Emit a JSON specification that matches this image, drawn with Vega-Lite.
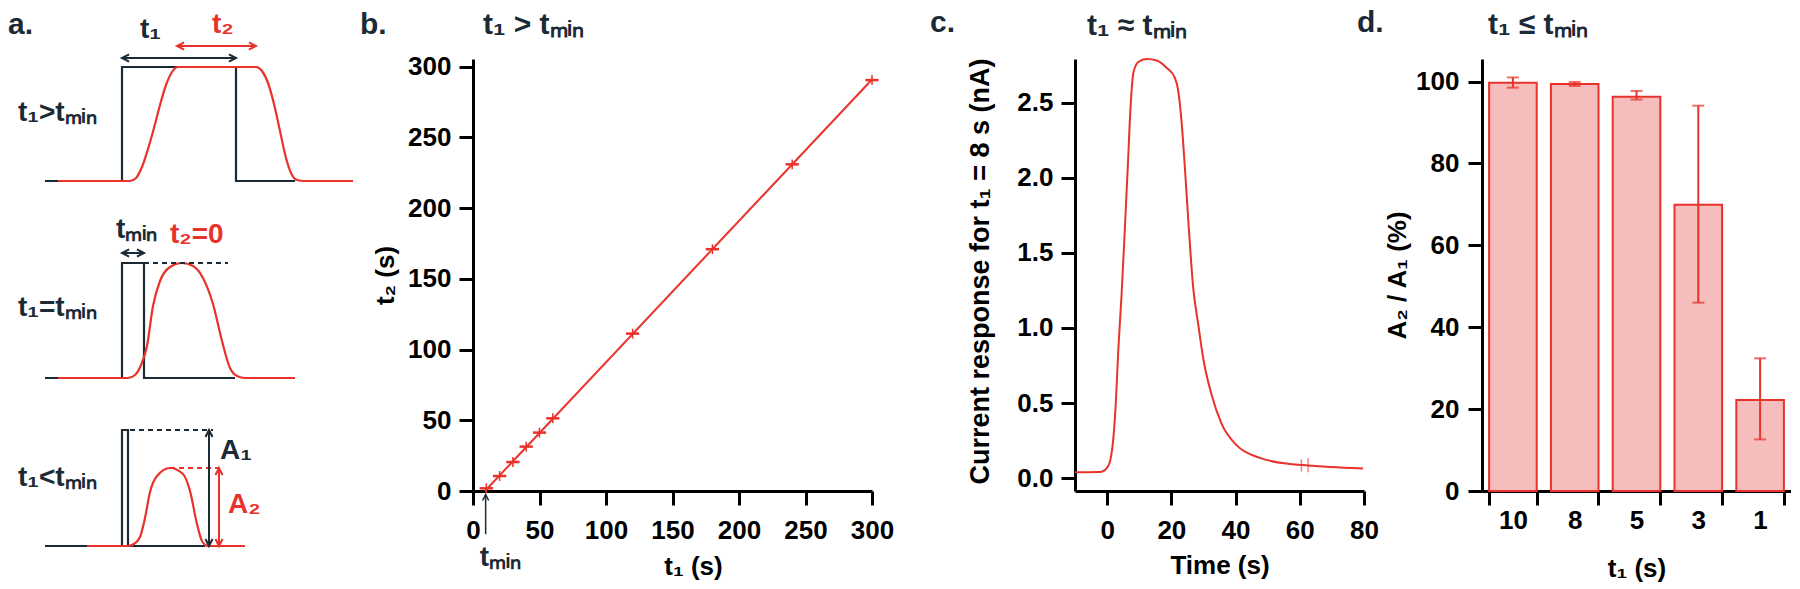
{
  "$schema": "https://vega.github.io/schema/vega-lite/v6.json",
  "background": "white",
  "padding": 0,
  "bounds": "flush",
  "spacing": 0,
  "config": {
    "view": {"stroke": null},
    "font": "Liberation Sans",
    "axis": {
      "grid": false,
      "domainColor": "#000000",
      "domainWidth": 3,
      "tickColor": "#000000",
      "tickWidth": 3,
      "tickSize": 14,
      "labelFont": "Liberation Sans",
      "labelFontWeight": "bold",
      "labelFontSize": 26,
      "labelColor": "#000000",
      "titleFont": "Liberation Sans",
      "titleFontWeight": "bold",
      "titleFontSize": 26,
      "titleColor": "#000000",
      "labelFlush": false,
      "labelOverlap": false
    }
  },
  "hconcat": [
    {
      "width": 473,
      "height": 432,
      "encoding": {
        "x": {"field": "x", "type": "quantitative", "scale": {"domain": [0, 473], "nice": false, "zero": false}, "axis": null},
        "y": {"field": "y", "type": "quantitative", "scale": {"domain": [58, 490], "reverse": true, "nice": false, "zero": false}, "axis": null},
        "color": {"field": "series", "type": "nominal", "scale": {"domain": ["pulse", "response"], "range": ["#1b2a35", "#e8322b"]}, "legend": null}
      },
      "layer": [
        {
          "data": {"values": [{"x": 0, "y": 0, "y2": 589, "series": "pulse"}]},
          "mark": {"type": "rule", "strokeOpacity": 0, "strokeWidth": 0.1},
          "encoding": {"y2": {"field": "y2"}}
        },
        {
          "data": {"values": [
            {"id": "k1", "series": "pulse", "i": 1, "x": 45, "y": 180},
            {"id": "k1", "series": "pulse", "i": 2, "x": 122, "y": 180},
            {"id": "k1", "series": "pulse", "i": 3, "x": 122, "y": 66},
            {"id": "k1", "series": "pulse", "i": 4, "x": 236, "y": 66},
            {"id": "k1", "series": "pulse", "i": 5, "x": 236, "y": 180},
            {"id": "k1", "series": "pulse", "i": 6, "x": 295, "y": 180},
            {"id": "k2", "series": "pulse", "i": 1, "x": 45, "y": 377},
            {"id": "k2", "series": "pulse", "i": 2, "x": 122, "y": 377},
            {"id": "k2", "series": "pulse", "i": 3, "x": 122, "y": 262},
            {"id": "k2", "series": "pulse", "i": 4, "x": 144, "y": 262},
            {"id": "k2", "series": "pulse", "i": 5, "x": 144, "y": 377},
            {"id": "k2", "series": "pulse", "i": 6, "x": 235, "y": 377},
            {"id": "k3", "series": "pulse", "i": 1, "x": 45, "y": 545},
            {"id": "k3", "series": "pulse", "i": 2, "x": 122, "y": 545},
            {"id": "k3", "series": "pulse", "i": 3, "x": 122, "y": 429},
            {"id": "k3", "series": "pulse", "i": 4, "x": 128, "y": 429},
            {"id": "k3", "series": "pulse", "i": 5, "x": 128, "y": 545},
            {"id": "k3", "series": "pulse", "i": 6, "x": 205, "y": 545},
            {"id": "r1", "series": "response", "i": 1, "x": 58, "y": 180},
            {"id": "r1", "series": "response", "i": 2, "x": 130, "y": 180},
            {"id": "r1", "series": "response", "i": 3, "x": 136, "y": 177},
            {"id": "r1", "series": "response", "i": 4, "x": 142, "y": 166},
            {"id": "r1", "series": "response", "i": 5, "x": 148, "y": 148},
            {"id": "r1", "series": "response", "i": 6, "x": 154, "y": 127},
            {"id": "r1", "series": "response", "i": 7, "x": 160, "y": 104},
            {"id": "r1", "series": "response", "i": 8, "x": 166, "y": 84},
            {"id": "r1", "series": "response", "i": 9, "x": 172, "y": 71},
            {"id": "r1", "series": "response", "i": 10, "x": 178, "y": 66},
            {"id": "r1", "series": "response", "i": 11, "x": 256, "y": 66},
            {"id": "r1", "series": "response", "i": 12, "x": 262, "y": 70},
            {"id": "r1", "series": "response", "i": 13, "x": 268, "y": 82},
            {"id": "r1", "series": "response", "i": 14, "x": 274, "y": 103},
            {"id": "r1", "series": "response", "i": 15, "x": 280, "y": 130},
            {"id": "r1", "series": "response", "i": 16, "x": 286, "y": 157},
            {"id": "r1", "series": "response", "i": 17, "x": 291, "y": 172},
            {"id": "r1", "series": "response", "i": 18, "x": 297, "y": 179},
            {"id": "r1", "series": "response", "i": 19, "x": 304, "y": 180},
            {"id": "r1", "series": "response", "i": 20, "x": 353, "y": 180},
            {"id": "r2", "series": "response", "i": 1, "x": 58, "y": 377},
            {"id": "r2", "series": "response", "i": 2, "x": 128, "y": 377},
            {"id": "r2", "series": "response", "i": 3, "x": 135, "y": 374},
            {"id": "r2", "series": "response", "i": 4, "x": 141, "y": 364},
            {"id": "r2", "series": "response", "i": 5, "x": 147, "y": 345},
            {"id": "r2", "series": "response", "i": 6, "x": 153, "y": 305},
            {"id": "r2", "series": "response", "i": 7, "x": 160, "y": 280},
            {"id": "r2", "series": "response", "i": 8, "x": 170, "y": 266},
            {"id": "r2", "series": "response", "i": 9, "x": 182, "y": 262},
            {"id": "r2", "series": "response", "i": 10, "x": 193, "y": 265},
            {"id": "r2", "series": "response", "i": 11, "x": 203, "y": 277},
            {"id": "r2", "series": "response", "i": 12, "x": 213, "y": 303},
            {"id": "r2", "series": "response", "i": 13, "x": 222, "y": 340},
            {"id": "r2", "series": "response", "i": 14, "x": 230, "y": 367},
            {"id": "r2", "series": "response", "i": 15, "x": 237, "y": 375},
            {"id": "r2", "series": "response", "i": 16, "x": 245, "y": 377},
            {"id": "r2", "series": "response", "i": 17, "x": 295, "y": 377},
            {"id": "r3", "series": "response", "i": 1, "x": 87, "y": 545},
            {"id": "r3", "series": "response", "i": 2, "x": 128, "y": 545},
            {"id": "r3", "series": "response", "i": 3, "x": 134, "y": 543},
            {"id": "r3", "series": "response", "i": 4, "x": 140, "y": 536},
            {"id": "r3", "series": "response", "i": 5, "x": 145, "y": 517},
            {"id": "r3", "series": "response", "i": 6, "x": 150, "y": 491},
            {"id": "r3", "series": "response", "i": 7, "x": 157, "y": 475},
            {"id": "r3", "series": "response", "i": 8, "x": 170, "y": 467},
            {"id": "r3", "series": "response", "i": 9, "x": 183, "y": 473},
            {"id": "r3", "series": "response", "i": 10, "x": 190, "y": 490},
            {"id": "r3", "series": "response", "i": 11, "x": 197, "y": 523},
            {"id": "r3", "series": "response", "i": 12, "x": 202, "y": 540},
            {"id": "r3", "series": "response", "i": 13, "x": 208, "y": 545},
            {"id": "r3", "series": "response", "i": 14, "x": 245, "y": 545}
          ]},
          "mark": {"type": "line", "strokeWidth": 2.2, "interpolate": "monotone"},
          "encoding": {"detail": {"field": "id"}, "order": {"field": "i", "type": "quantitative"}}
        },
        {
          "data": {"values": [
            {"id": "d1", "series": "pulse", "x": 144, "y": 262},
            {"id": "d1", "series": "pulse", "x": 228, "y": 262},
            {"id": "d2", "series": "pulse", "x": 130, "y": 429},
            {"id": "d2", "series": "pulse", "x": 213, "y": 429},
            {"id": "d3", "series": "response", "x": 170, "y": 467},
            {"id": "d3", "series": "response", "x": 222, "y": 467}
          ]},
          "mark": {"type": "line", "strokeWidth": 2, "strokeDash": [5, 4]},
          "encoding": {"detail": {"field": "id"}}
        },
        {
          "data": {"values": [
            {"series": "pulse", "x": 122, "y": 57, "x2": 236, "y2": 57},
            {"series": "response", "x": 177, "y": 45, "x2": 256, "y2": 45},
            {"series": "pulse", "x": 122, "y": 252, "x2": 144, "y2": 252},
            {"series": "pulse", "x": 209, "y": 429, "x2": 209, "y2": 545},
            {"series": "response", "x": 219, "y": 467, "x2": 219, "y2": 545}
          ]},
          "mark": {"type": "rule", "strokeWidth": 2},
          "encoding": {"x2": {"field": "x2"}, "y2": {"field": "y2"}}
        },
        {
          "data": {"values": [
            {"series": "pulse", "x": 122, "y": 57, "dir": "left"},
            {"series": "pulse", "x": 236, "y": 57, "dir": "right"},
            {"series": "response", "x": 177, "y": 45, "dir": "left"},
            {"series": "response", "x": 256, "y": 45, "dir": "right"},
            {"series": "pulse", "x": 122, "y": 252, "dir": "left"},
            {"series": "pulse", "x": 144, "y": 252, "dir": "right"},
            {"series": "pulse", "x": 209, "y": 429, "dir": "up"},
            {"series": "pulse", "x": 209, "y": 545, "dir": "down"},
            {"series": "response", "x": 219, "y": 467, "dir": "up"},
            {"series": "response", "x": 219, "y": 545, "dir": "down"}
          ]},
          "mark": {"type": "point", "filled": false, "strokeWidth": 2, "size": 50, "opacity": 1},
          "encoding": {
            "shape": {"field": "dir", "type": "nominal", "scale": {"domain": ["left", "right", "up", "down"], "range": ["M2,-1L0,0L2,1", "M-2,-1L0,0L-2,1", "M-1,2L0,0L1,2", "M-1,-2L0,0L1,-2"]}, "legend": null}
          }
        },
        {
          "data": {"values": [
            {"text": "t₁", "series": "pulse", "x": 140, "y": 37},
            {"text": "t₂", "series": "response", "x": 212, "y": 32},
            {"text": "t₁>tₘᵢₙ", "series": "pulse", "x": 18, "y": 120},
            {"text": "tₘᵢₙ", "series": "pulse", "x": 116, "y": 237},
            {"text": "t₂=0", "series": "response", "x": 170, "y": 242},
            {"text": "t₁=tₘᵢₙ", "series": "pulse", "x": 18, "y": 315},
            {"text": "t₁<tₘᵢₙ", "series": "pulse", "x": 18, "y": 485},
            {"text": "A₁", "series": "pulse", "x": 220, "y": 458},
            {"text": "A₂", "series": "response", "x": 228, "y": 512}
          ]},
          "mark": {"type": "text", "align": "left", "baseline": "alphabetic", "fontSize": 28, "fontWeight": "bold", "font": "Liberation Sans"},
          "encoding": {"text": {"field": "text"}}
        },
        {
          "data": {"values": [
            {"text": "a.", "series": "pulse", "x": 8, "y": 33},
            {"text": "b.", "series": "pulse", "x": 360, "y": 33},
            {"text": "c.", "series": "pulse", "x": 930, "y": 31},
            {"text": "d.", "series": "pulse", "x": 1357, "y": 31}
          ]},
          "mark": {"type": "text", "align": "left", "baseline": "alphabetic", "fontSize": 30, "fontWeight": "bold", "font": "Liberation Sans"},
          "encoding": {"text": {"field": "text"}}
        },
        {
          "data": {"values": [
            {"text": "t₁ > tₘᵢₙ", "series": "pulse", "x": 483, "y": 33},
            {"text": "t₁ ≈ tₘᵢₙ", "series": "pulse", "x": 1087, "y": 34},
            {"text": "t₁ ≤ tₘᵢₙ", "series": "pulse", "x": 1488, "y": 33}
          ]},
          "mark": {"type": "text", "align": "left", "baseline": "alphabetic", "fontSize": 30, "fontWeight": "bold", "font": "Liberation Sans"},
          "encoding": {"text": {"field": "text"}}
        }
      ]
    },
    {
      "width": 399,
      "height": 432,
      "encoding": {
        "x": {"field": "t1", "type": "quantitative", "scale": {"domain": [0, 300], "nice": false, "zero": false},
          "axis": {"values": [0, 50, 100, 150, 200, 250, 300], "title": "t₁ (s)", "labelPadding": 12, "titleX": 220, "titleY": 83, "titleBaseline": "alphabetic"}},
        "y": {"field": "t2", "type": "quantitative", "scale": {"domain": [0, 305.5], "nice": false, "zero": false},
          "axis": {"values": [0, 50, 100, 150, 200, 250, 300], "title": "t₂ (s)", "labelPadding": 8, "titleX": -88, "titleBaseline": "middle"}}
      },
      "layer": [
        {
          "data": {"values": [{"t1": 9, "t2": 0}, {"t1": 300, "t2": 291}]},
          "mark": {"type": "line", "color": "#e8322b", "strokeWidth": 2}
        },
        {
          "data": {"name": "pts", "values": [
            {"t1": 10, "t2": 1.9, "t1lo": 5, "t1hi": 15, "t2lo": -1.6, "t2hi": 5.4},
            {"t1": 20, "t2": 10.6, "t1lo": 15, "t1hi": 25, "t2lo": 7.1, "t2hi": 14.1},
            {"t1": 30, "t2": 20.5, "t1lo": 25, "t1hi": 35, "t2lo": 17, "t2hi": 24},
            {"t1": 40, "t2": 31.4, "t1lo": 35, "t1hi": 45, "t2lo": 27.9, "t2hi": 34.9},
            {"t1": 50, "t2": 41.3, "t1lo": 45, "t1hi": 55, "t2lo": 37.8, "t2hi": 44.8},
            {"t1": 60, "t2": 51.4, "t1lo": 55, "t1hi": 65, "t2lo": 47.9, "t2hi": 54.9},
            {"t1": 120, "t2": 111.3, "t1lo": 115, "t1hi": 125, "t2lo": 107.8, "t2hi": 114.8},
            {"t1": 180, "t2": 171, "t1lo": 175, "t1hi": 185, "t2lo": 167.5, "t2hi": 174.5},
            {"t1": 240, "t2": 231, "t1lo": 235, "t1hi": 245, "t2lo": 227.5, "t2hi": 234.5},
            {"t1": 300, "t2": 290.6, "t1lo": 295, "t1hi": 305, "t2lo": 287.1, "t2hi": 294.1}
          ]},
          "mark": {"type": "rule", "color": "#e8322b", "strokeWidth": 2.5},
          "encoding": {"x": {"field": "t1lo", "type": "quantitative"}, "x2": {"field": "t1hi"}}
        },
        {
          "data": {"name": "pts"},
          "mark": {"type": "rule", "color": "#e8322b", "strokeWidth": 1.5},
          "encoding": {"y": {"field": "t2lo", "type": "quantitative"}, "y2": {"field": "t2hi"}}
        },
        {
          "data": {"values": [{"t1": 9.5, "t2": -3, "t2b": -30.5}]},
          "mark": {"type": "rule", "color": "#1b2a35", "strokeWidth": 1.5},
          "encoding": {"y2": {"field": "t2b"}}
        },
        {
          "data": {"values": [{"t1": 9.5, "t2": -2.5}]},
          "mark": {"type": "point", "shape": "M-1,2L0,0L1,2", "filled": false, "size": 36, "strokeWidth": 1.5, "color": "#1b2a35", "opacity": 1}
        },
        {
          "data": {"values": [{"t1": 5, "t2": -53, "label": "tₘᵢₙ"}]},
          "mark": {"type": "text", "align": "left", "baseline": "alphabetic", "fontSize": 28, "fontWeight": "bold", "color": "#1b2a35"},
          "encoding": {"text": {"field": "label"}}
        }
      ]
    },
    {
      "width": 203,
      "height": 432,
      "data": {"values": [{"v": 0}]},
      "mark": {"type": "point", "opacity": 0},
      "encoding": {}
    },
    {
      "width": 289,
      "height": 432,
      "encoding": {
        "x": {"field": "time", "type": "quantitative", "scale": {"domain": [-10, 80], "nice": false, "zero": false},
          "axis": {"values": [0, 20, 40, 60, 80], "title": "Time (s)", "labelPadding": 12, "titleY": 82, "titleBaseline": "alphabetic"}},
        "y": {"field": "current", "type": "quantitative", "scale": {"domain": [-0.085, 2.79], "nice": false, "zero": false},
          "axis": {"values": [0, 0.5, 1, 1.5, 2, 2.5], "format": ".1f", "title": "Current response for t₁ = 8 s (nA)", "titleFontSize": 27, "labelPadding": 8, "titleX": -95, "titleY": 212, "titleBaseline": "middle"}}
      },
      "layer": [
        {
          "data": {"values": [
            {"time": -10, "current": 0.04}, {"time": -6, "current": 0.04}, {"time": -3, "current": 0.041},
            {"time": -1.5, "current": 0.045}, {"time": 0, "current": 0.07}, {"time": 1, "current": 0.12},
            {"time": 2, "current": 0.28}, {"time": 2.7, "current": 0.5}, {"time": 3.5, "current": 0.86},
            {"time": 4.5, "current": 1.22}, {"time": 5.5, "current": 1.65}, {"time": 6.5, "current": 2.1},
            {"time": 7.3, "current": 2.47}, {"time": 8.2, "current": 2.7}, {"time": 9.7, "current": 2.77},
            {"time": 12.3, "current": 2.79}, {"time": 15.5, "current": 2.78}, {"time": 18.6, "current": 2.73},
            {"time": 21, "current": 2.67}, {"time": 22.2, "current": 2.57}, {"time": 23.2, "current": 2.37},
            {"time": 24.3, "current": 2.04}, {"time": 25.3, "current": 1.71}, {"time": 26.8, "current": 1.27},
            {"time": 28.4, "current": 1.02}, {"time": 30, "current": 0.79}, {"time": 32.6, "current": 0.55},
            {"time": 35.7, "current": 0.36}, {"time": 40.3, "current": 0.22}, {"time": 47.6, "current": 0.135},
            {"time": 56.9, "current": 0.095}, {"time": 62.6, "current": 0.085}, {"time": 69.4, "current": 0.074},
            {"time": 79.7, "current": 0.065}
          ]},
          "mark": {"type": "line", "color": "#e8322b", "strokeWidth": 2, "interpolate": "monotone"}
        },
        {
          "data": {"values": [
            {"time": 60.5, "current": 0.045, "hi": 0.125},
            {"time": 62.6, "current": 0.04, "hi": 0.135}
          ]},
          "mark": {"type": "rule", "color": "#e8322b", "strokeWidth": 1.5, "opacity": 0.6},
          "encoding": {"y2": {"field": "hi"}}
        }
      ]
    },
    {
      "width": 118,
      "height": 432,
      "data": {"values": [{"v": 0}]},
      "mark": {"type": "point", "opacity": 0},
      "encoding": {}
    },
    {
      "width": 309,
      "height": 432,
      "data": {"values": [
        {"t1": "10", "ratio": 99.7, "lo": 98.5, "hi": 101},
        {"t1": "8", "ratio": 99.4, "lo": 98.9, "hi": 99.9},
        {"t1": "5", "ratio": 96.3, "lo": 95.6, "hi": 97.7},
        {"t1": "3", "ratio": 69.9, "lo": 46, "hi": 94.1},
        {"t1": "1", "ratio": 22.2, "lo": 12.6, "hi": 32.4}
      ]},
      "encoding": {
        "x": {"field": "t1", "type": "nominal", "sort": null,
          "scale": {"paddingInner": 0.23, "paddingOuter": 0.115},
          "axis": {"tickBand": "extent", "labelAngle": 0, "title": "t₁ (s)", "labelPadding": 2, "titleY": 85, "titleBaseline": "alphabetic"}},
        "y": {"field": "ratio", "type": "quantitative", "scale": {"domain": [0, 105.5], "nice": false},
          "axis": {"values": [0, 20, 40, 60, 80, 100], "title": "A₂ / A₁ (%)", "labelPadding": 9, "titleX": -85, "titleBaseline": "middle"}}
      },
      "layer": [
        {"mark": {"type": "bar", "fill": "#f6bdbd", "stroke": "#e8322b", "strokeWidth": 2}},
        {"mark": {"type": "rule", "color": "#e8322b", "strokeWidth": 2}, "encoding": {"y": {"field": "lo", "type": "quantitative"}, "y2": {"field": "hi"}}},
        {"mark": {"type": "tick", "color": "#e8322b", "thickness": 2, "size": 12}, "encoding": {"y": {"field": "lo", "type": "quantitative"}}},
        {"mark": {"type": "tick", "color": "#e8322b", "thickness": 2, "size": 12}, "encoding": {"y": {"field": "hi", "type": "quantitative"}}}
      ]
    }
  ]
}
